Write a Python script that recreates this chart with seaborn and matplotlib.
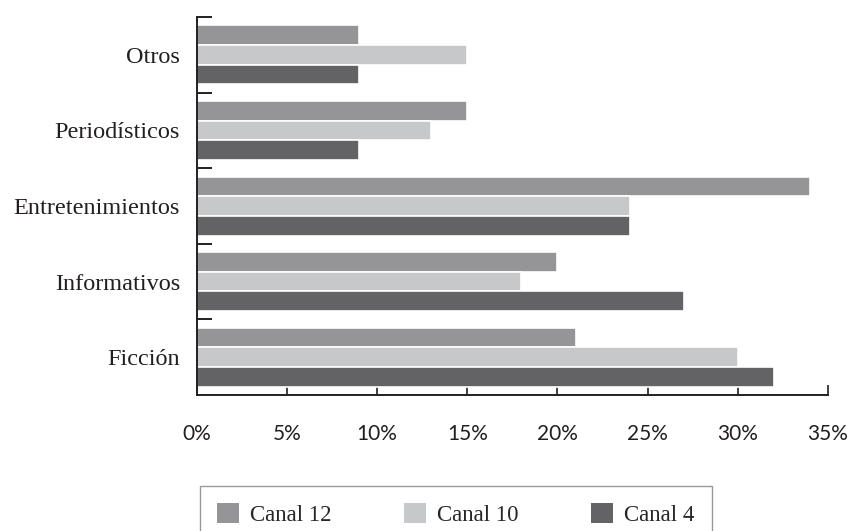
import pandas as pd
import matplotlib
matplotlib.use("Agg")
import matplotlib.pyplot as plt
import seaborn as sns

# Data (percent)
categorias = ["Otros", "Periodísticos", "Entretenimientos", "Informativos", "Ficción"]
canales = ["Canal 12", "Canal 10", "Canal 4"]
canal_12 = [9, 15, 34, 20, 21]
canal_10 = [15, 13, 24, 18, 30]
canal_4 = [9, 9, 24, 27, 32]
colores = ["#959598", "#c7c8ca", "#636365"]
x_ticks = [0, 5, 10, 15, 20, 25, 30, 35]

df = pd.DataFrame({
    "categoria": categorias * 3,
    "canal": [c for c in canales for _ in categorias],
    "valor": canal_12 + canal_10 + canal_4,
})

sns.set_theme(style="white")
plt.rcParams["font.family"] = ["Liberation Serif", "DejaVu Serif"]

fig = plt.figure(figsize=(8.59, 5.31), dpi=100)
ax = fig.add_axes([0.229, 0.256, 0.735, 0.712])

sns.barplot(data=df, y="categoria", x="valor", hue="canal",
            order=categorias, hue_order=canales, palette=colores,
            orient="h", width=0.78, saturation=1, edgecolor="white",
            linewidth=1.2, ax=ax, legend=True)

ax.set_xlim(0, 35)
ax.set_ylim(len(categorias) - 0.5, -0.5)
ax.set_xticks(x_ticks)
ax.set_xticklabels([f"{t}%" for t in x_ticks], family="Lato", fontsize=15)
ax.set_xlabel("")
ax.set_ylabel("")
ax.set_yticks(range(len(categorias)))
ax.set_yticklabels(categorias, fontsize=17.5)
ax.set_yticks([i - 0.5 for i in range(len(categorias))], minor=True)

for side in ["top", "right"]:
    ax.spines[side].set_visible(False)
for side in ["left", "bottom"]:
    ax.spines[side].set_color("#231f20")
    ax.spines[side].set_linewidth(1.4)

ax.tick_params(axis="y", which="major", length=0, pad=12, colors="#231f20")
ax.tick_params(axis="y", which="minor", direction="in", length=11,
               width=1.4, color="#231f20", left=True)
ax.tick_params(axis="x", direction="in", length=7, width=1.2,
               color="#231f20", pad=21, bottom=True, labelcolor="#231f20")

# legend box spanning the same width as in the reference
handles, labels = ax.get_legend_handles_labels()
ax.get_legend().remove()
leg = fig.legend(handles, labels, loc="upper left", ncol=3, mode="expand",
                 bbox_to_anchor=(0.2328, 0.0, 0.596, 0.085),
                 frameon=True, fancybox=False, edgecolor="#808080",
                 fontsize=16.5, handlelength=0.95, handleheight=0.95,
                 handletextpad=0.5, columnspacing=2.6,
                 borderpad=0.75, borderaxespad=0)
leg.get_frame().set_linewidth(1.0)
for h in leg.legend_handles:
    h.set_edgecolor("none")

fig.savefig("out.png", dpi=100)
